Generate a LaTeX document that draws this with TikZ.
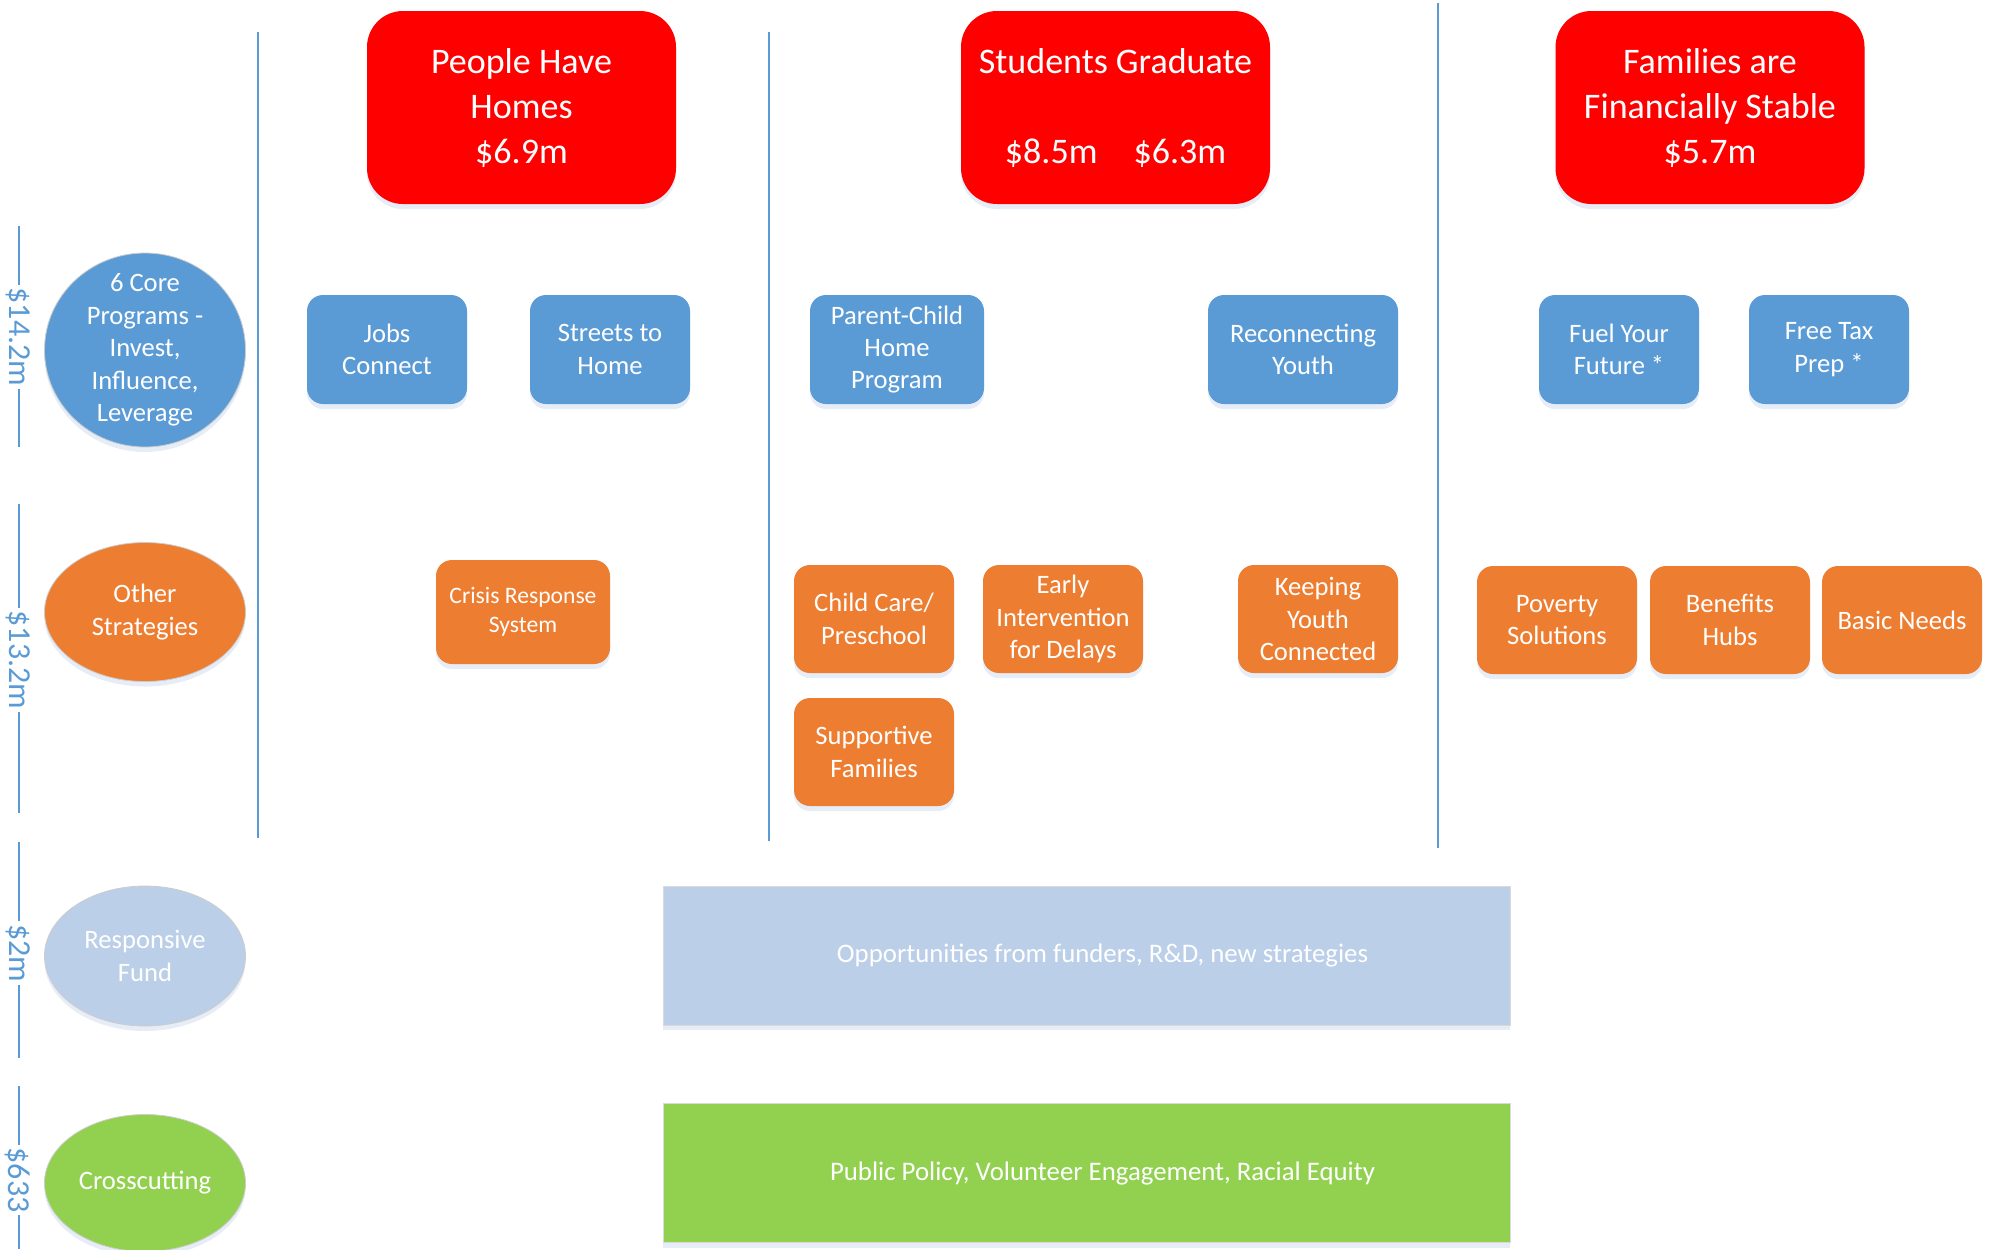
\documentclass[tikz,border=0pt]{standalone}
\usepackage{fontspec}
\setmainfont{Carlito}
\usetikzlibrary{shapes.geometric,shadows}
\definecolor{cblue}{HTML}{5B9BD5}
\definecolor{corange}{HTML}{ED7D31}
\definecolor{cred}{HTML}{FF0000}
\definecolor{clight}{HTML}{BCCFE8}
\definecolor{cgreen}{HTML}{92D050}
\definecolor{cline}{HTML}{5B9BD5}
\definecolor{cshadow}{HTML}{9DB7DA}
\begin{document}
\begin{tikzpicture}[x=0.5pt,y=-0.5pt,
  shad/.style={drop shadow={shadow xshift=0pt,shadow yshift=-2.5pt,opacity=0.25,fill=cshadow}},
  goalbox/.style={shad, fill=cred, rounded corners=18pt, minimum width=154.5pt, minimum height=96.5pt,
    text=white, align=center, font=\fontsize{18}{22.5}\selectfont, inner sep=0pt},
  progbox/.style={shad, fill=cblue, rounded corners=8pt, minimum width=80pt, minimum height=54.5pt,
    text=white, align=center, font=\fontsize{13.3}{16.2}\selectfont, inner sep=0pt},
  stratbox/.style={shad, fill=corange, rounded corners=8pt, minimum width=80pt, minimum height=54pt,
    text=white, align=center, font=\fontsize{13.3}{16.2}\selectfont, inner sep=0pt},
  rowoval/.style={ellipse, shad, draw=gray!40, line width=0.4pt, minimum width=100.5pt, inner sep=0pt},
  ovaltext/.style={text=white, align=center, font=\fontsize{13.3}{16.2}\selectfont, inner sep=0pt},
  band/.style={shad, draw=gray!30, line width=0.4pt, minimum width=423.5pt, minimum height=69.5pt, inner sep=0pt},
  bandtext/.style={text=white, font=\fontsize{13.4}{16}\selectfont, xshift=8pt},
  divider/.style={draw=cline, line width=1.1pt},
  budgetline/.style={draw=cline, line width=1.1pt},
  budget/.style={text=cline, rotate=-90, fill=white, inner sep=1.5pt, font=\fontsize{16}{18}\selectfont}
]
\useasboundingbox (0,0) rectangle (1991,1249);

% dividers
\coordinate (d1t) at (258,32);  \coordinate (d1b) at (258,838);
\coordinate (d2t) at (769,32);  \coordinate (d2b) at (769,841);
\coordinate (d3t) at (1438,3);  \coordinate (d3b) at (1438,848);
\draw[divider] (d1t) -- (d1b);
\draw[divider] (d2t) -- (d2b);
\draw[divider] (d3t) -- (d3b);

% budget brackets
\coordinate (a1t) at (19,226);  \coordinate (a1b) at (19,447);
\coordinate (a2t) at (19,504);  \coordinate (a2b) at (19,813);
\coordinate (a3t) at (19,842);  \coordinate (a3b) at (19,1058);
\coordinate (a4t) at (19,1086); \coordinate (a4b) at (19,1249);
\draw[budgetline] (a1t) -- (a1b);
\draw[budgetline] (a2t) -- (a2b);
\draw[budgetline] (a3t) -- (a3b);
\draw[budgetline] (a4t) -- (a4b);
\node[budget] (bl1) at (18,337) {\$14.2m};
\node[budget] (bl2) at (18,660) {\$13.2m};
\node[budget] (bl3) at (18,953) {\$2m};
\node[budget] (bl4) at (18,1180) {\$633};

% row ovals
\node[rowoval, fill=cblue, minimum height=97pt,
  label={[ovaltext]center:{6 Core\\Programs -\\Invest,\\Influence,\\Leverage}}] (o1) at (145,350) {};
\node[rowoval, fill=corange, minimum height=69.5pt,
  label={[ovaltext]center:{Other\\Strategies}}] (o2) at (145,612) {};
\node[rowoval, fill=clight, minimum height=70pt,
  label={[ovaltext]center:{Responsive\\Fund}}] (o3) at (145,956) {};
\node[rowoval, fill=cgreen, minimum height=68.5pt,
  label={[ovaltext]center:{Crosscutting}}] (o4) at (145,1183) {};

% goals
\node[goalbox] (g1) at (521.5,107.5) {People Have\\Homes\\\$6.9m};
\node[goalbox] (g2) at (1115.5,107.5) {Students Graduate\\[22.5pt]\$8.5m\hspace{1em}\$6.3m};
\node[goalbox] (g3) at (1710,107.5) {Families are\\Financially Stable\\\$5.7m};

% core programs
\node[progbox] (p1) at (387,349.5) {Jobs\\Connect};
\node[progbox] (p2) at (610,349.5) {Streets to\\Home};
\node[progbox, minimum width=87pt] (p3) at (897,349.5) {Parent-Child\\Home\\Program};
\node[progbox, minimum width=95pt] (p4) at (1303,349.5) {Reconnecting\\Youth};
\node[progbox] (p5) at (1619,349.5) {Fuel Your\\Future *};
\node[progbox] (p6) at (1829,349.5) {Free Tax\\Prep *};

% other strategies
\node[stratbox, minimum width=87pt, minimum height=52pt, font=\fontsize{11.8}{14.5}\selectfont] (s1) at (523,612) {Crisis Response\\System};
\node[stratbox] (s2) at (874,619) {Child Care/\\Preschool};
\node[stratbox] (s3) at (1063,619) {Early\\Intervention\\for Delays};
\node[stratbox] (s4) at (1318,619) {Keeping\\Youth\\Connected};
\node[stratbox] (s5) at (874,752) {Supportive\\Families};
\node[stratbox] (s6) at (1557,620) {Poverty\\Solutions};
\node[stratbox] (s7) at (1730,620) {Benefits\\Hubs};
\node[stratbox] (s8) at (1902,620) {Basic Needs};

% bands
\node[band, fill=clight,
  label={[bandtext]center:{Opportunities from funders, R\&D, new strategies}}] (b1) at (1086.5,955.5) {};
\node[band, fill=cgreen,
  label={[bandtext]center:{Public Policy, Volunteer Engagement, Racial Equity}}] (b2) at (1086.5,1173) {};
\end{tikzpicture}
\end{document}
